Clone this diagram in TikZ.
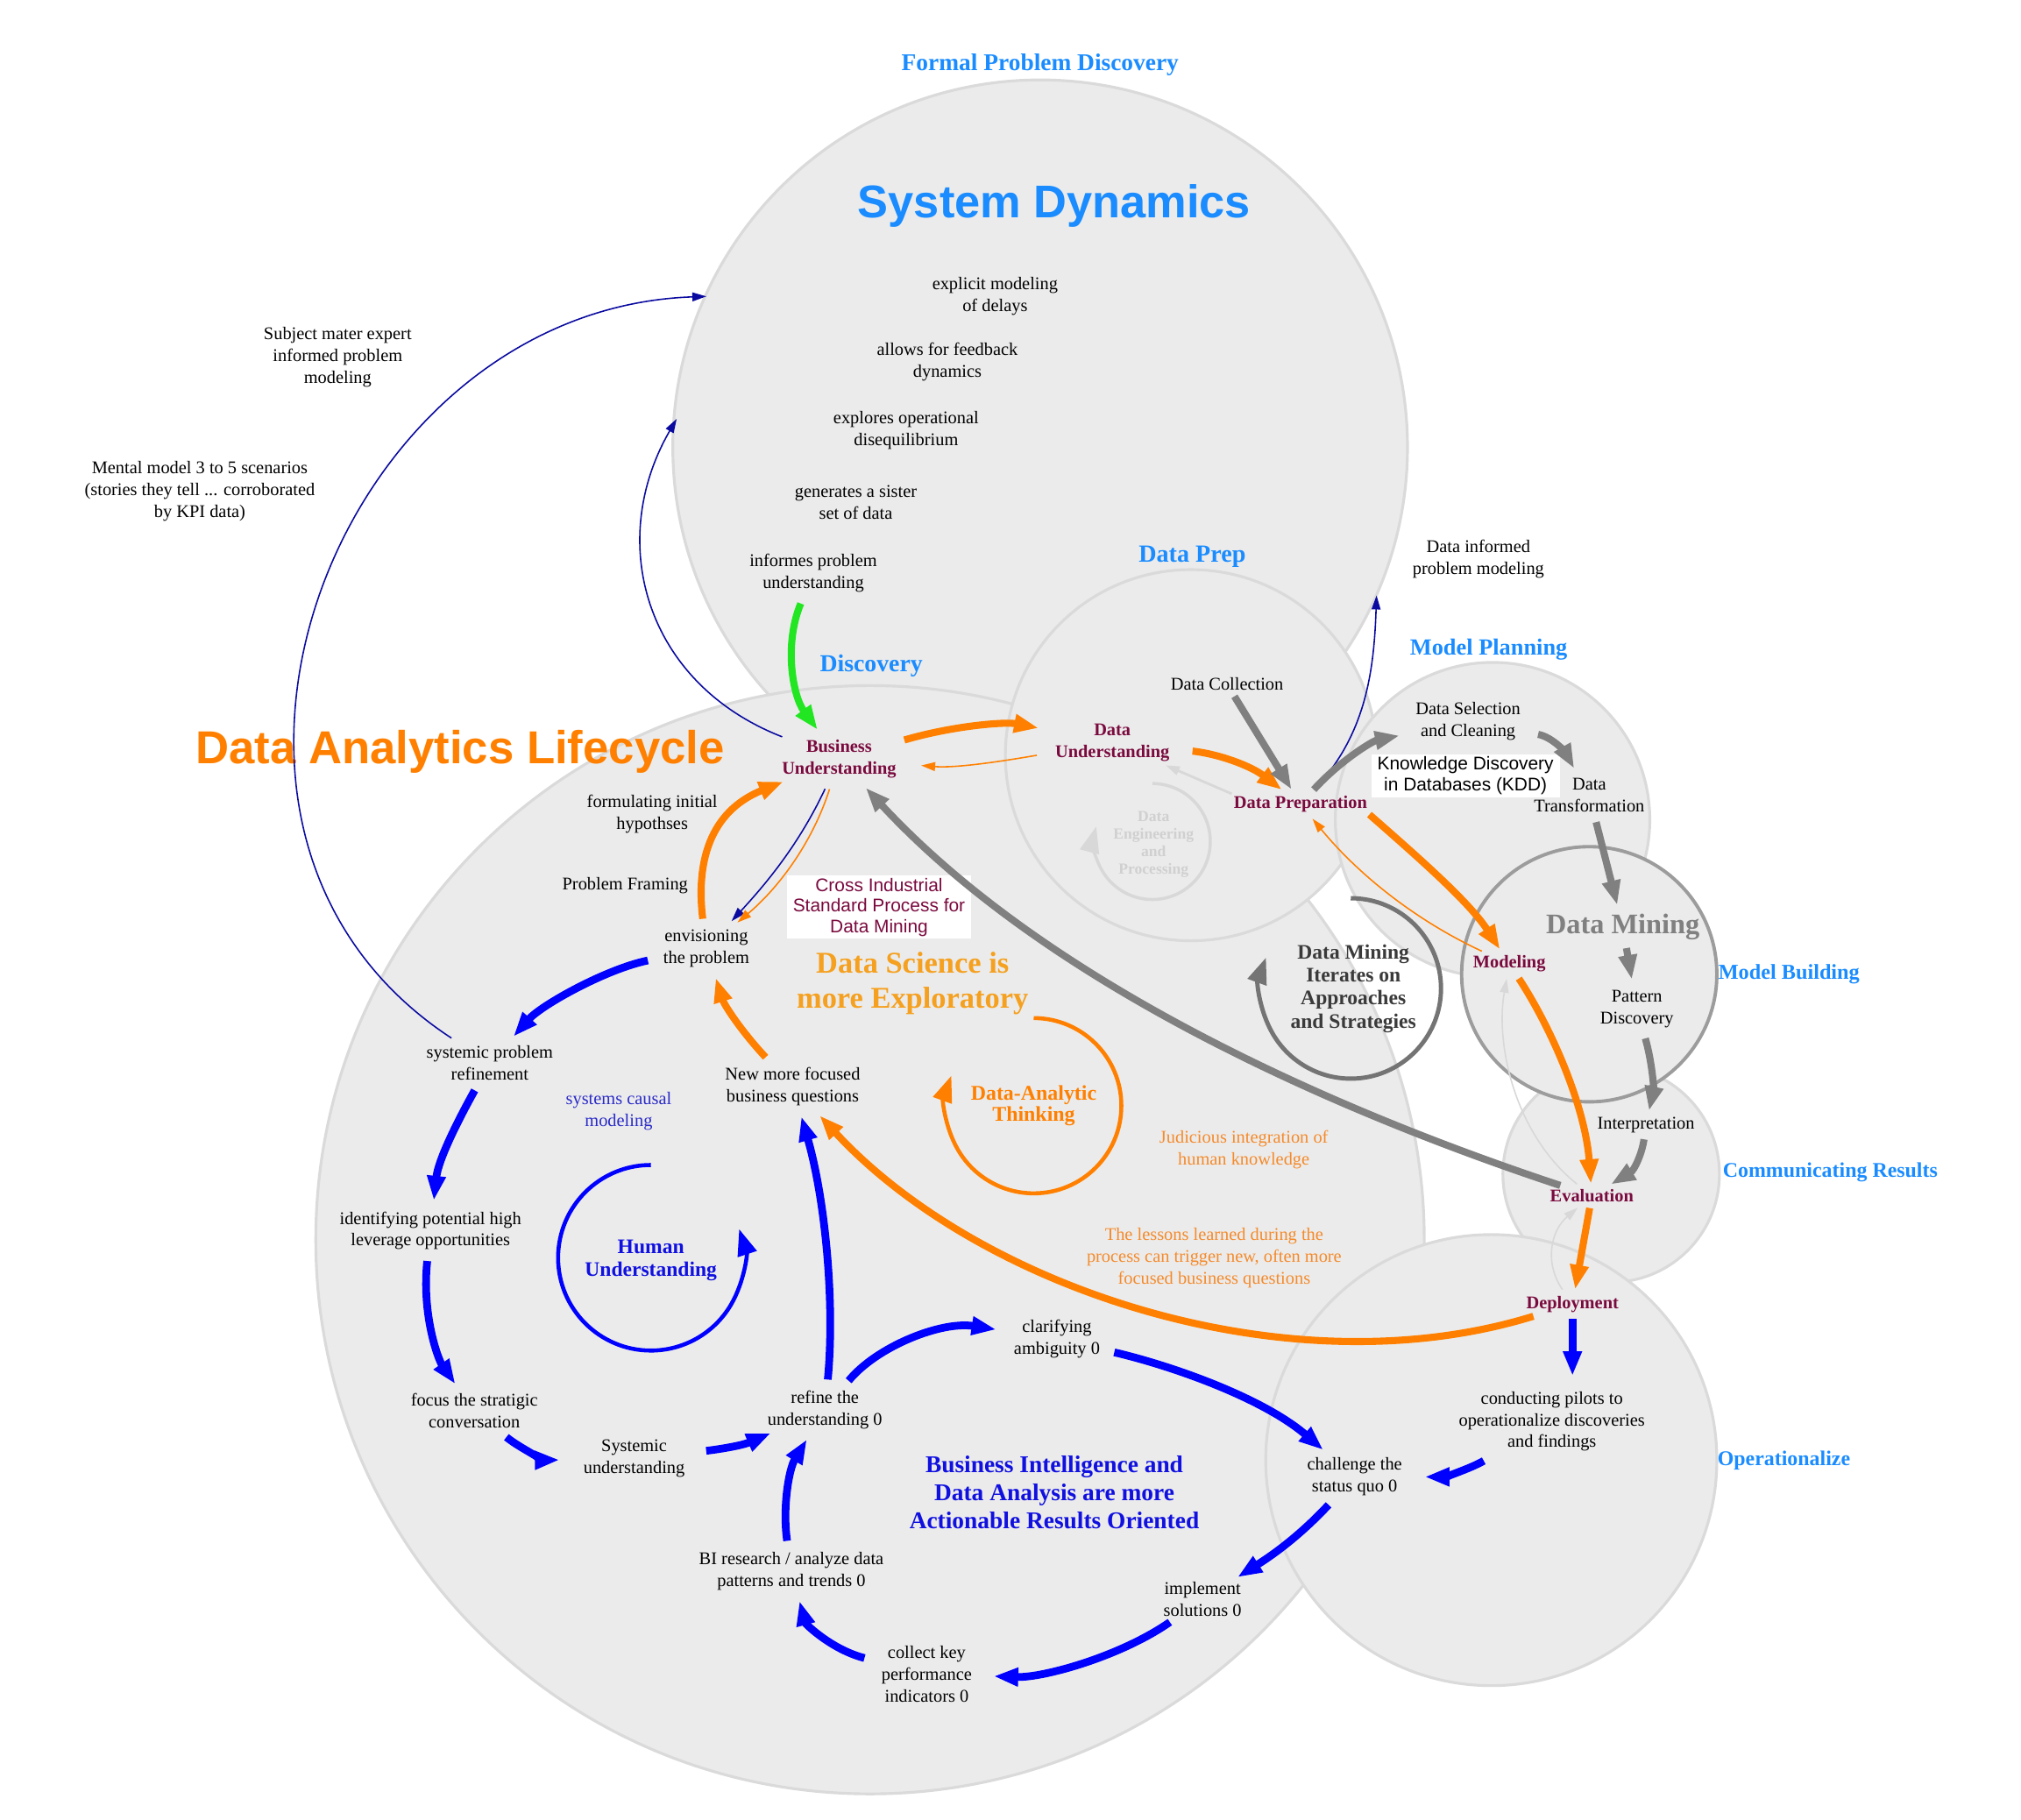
\documentclass[tikz,border=0pt]{standalone}
\usepackage{fontspec}
\setmainfont{Liberation Serif}
\newfontfamily\arialfont{Liberation Sans}
\usetikzlibrary{arrows.meta, shapes.geometric}
\definecolor{fillgray}{HTML}{EBEBEB}
\definecolor{edgegray}{HTML}{DADADA}
\definecolor{dmgray}{HTML}{9C9C9C}
\definecolor{itergray}{HTML}{3A3A3A}
\definecolor{loopgray}{HTML}{747474}
\definecolor{arrgray}{HTML}{808080}
\definecolor{faintgray}{HTML}{D8D8D8}
\definecolor{engtext}{HTML}{D0D0D0}
\definecolor{clblue}{HTML}{1A8CFF}
\definecolor{stagered}{HTML}{7A0A3E}
\definecolor{orng}{HTML}{FF8000}
\definecolor{amber}{HTML}{F5A01E}
\definecolor{otext}{HTML}{F58A2A}
\definecolor{bblue}{HTML}{0000FF}
\definecolor{navy}{HTML}{0A0AA0}
\definecolor{btext}{HTML}{1010E0}
\definecolor{scmblue}{HTML}{2A2AC8}
\definecolor{sdgreen}{HTML}{22E622}

\begin{document}
\begin{tikzpicture}[x=0.14707mm, y=-0.14707mm,
    every node/.style={ellipse, inner sep=0.6pt, align=center, font=\fontsize{5.8}{7.1}\selectfont},
    cluster/.style={draw=edgegray, line width=0.9pt, fill=fillgray},
    stage/.style={text=stagered, font=\fontsize{5.8}{7.1}\selectfont\bfseries},
    heading/.style={text=clblue, font=\fontsize{#1}{#1}\selectfont\bfseries},
    note/.style={text=otext},
    tag/.style={rectangle, fill=white, inner xsep=2pt, inner ysep=0.8pt, font=\arialfont\fontsize{5.95}{6.7}\selectfont},
    bigarrow/.style={line width=2.3pt, -{Triangle[length=2.8mm, width=2mm]}},
    thinarrow/.style={line width=0.45pt, -{Triangle[length=1.6mm, width=1mm]}},
    looparrow/.style={line width=1.3pt, -{Triangle[length=3mm, width=2.2mm]}}]

    \useasboundingbox (0,0) rectangle (1568,1412);

    \draw[cluster] (807,347) circle[radius=285];
    \draw[cluster] (675,962) circle[radius=430];
    \draw[cluster] (924,586) circle[radius=144];
    \draw[cluster] (1158,636) circle[radius=122];
    \draw[cluster] (1250,911) circle[radius=84];
    \draw[cluster, draw=dmgray, line width=1.1pt] (1233,756) circle[radius=99];
    \draw[cluster] (1157,1133) circle[radius=175];

    \node[heading=7.8] (fpd) at (807,50) {Formal Problem Discovery};
    \node[text=clblue, font=\arialfont\bfseries\fontsize{14.9}{14.9}\selectfont] (sdt) at (818,160) {System Dynamics};
    \node (sd1) at (772,230) {explicit modeling\\of delays};
    \node (sd2) at (735,281) {allows for feedback\\dynamics};
    \node (sd3) at (703,334) {explores operational\\disequilibrium};
    \node (sd4) at (664,390) {generates a sister\\set of data};
    \node (sd5) at (631,445) {informes problem\\understanding};
    \node (sme) at (262,277) {Subject mater expert\\informed problem\\modeling};
    \node (mm) at (155,381) {Mental model 3 to 5 scenarios\\(stories they tell ... corroborated\\by KPI data)};
    \node (dipm) at (1147,434) {Data informed\\problem modeling};

    \node[heading=8] (hdp) at (925,432) {Data Prep};
    \node[heading=7.9] (hdisc) at (676,517) {Discovery};
    \node[heading=7.5] (hmp) at (1155,504) {Model Planning};
    \node[heading=6.9] (hmb) at (1388,756) {Model Building};
    \node[heading=6.8] (hcr) at (1420,910) {Communicating Results};
    \node[heading=6.8] (hop) at (1384,1133) {Operationalize};
    \node[text=orng, font=\arialfont\bfseries\fontsize{15}{15}\selectfont] (dal) at (357,583) {Data Analytics Lifecycle};

    \node[stage] (bu) at (651,589) {Business\\Understanding};
    \node[stage] (du) at (863,576) {Data\\Understanding};
    \node[stage] (dp) at (1009,624) {Data Preparation};
    \node[stage] (mod) at (1171,748) {Modeling};
    \node[stage] (eva) at (1235,928) {Evaluation};
    \node[stage] (dep) at (1220,1012) {Deployment};

    \node (dcol) at (952,531) {Data Collection};
    \node (dsel) at (1139,560) {Data Selection\\and Cleaning};
    \node[tag] (kdd) at (1137,602) {Knowledge Discovery\\in Databases (KDD)};
    \node (dtr) at (1233,617) {Data\\Transformation};
    \node[text=arrgray, font=\fontsize{9.2}{9.2}\selectfont\bfseries] (dmt) at (1259,719) {Data Mining};
    \node (pat) at (1270,783) {Pattern\\Discovery};
    \node (intp) at (1277,873) {Interpretation};
    \node[text=engtext, font=\fontsize{5}{5.7}\selectfont\bfseries] (deng) at (895,655) {Data\\Engineering\\and\\Processing};
    \node[text=itergray, font=\fontsize{6.7}{7.5}\selectfont\bfseries] (dmi) at (1050,767) {Data Mining\\Iterates on\\Approaches\\and Strategies};

    \node (fih) at (506,632) {formulating initial\\hypothses};
    \node (pf) at (485,687) {Problem Framing};
    \node[tag, text=stagered] (crisp) at (682,704) {Cross Industrial\\Standard Process for\\Data Mining};
    \node (env) at (548,736) {envisioning\\the problem};
    \node[text=amber, font=\fontsize{9.8}{11.3}\selectfont\bfseries] (dse) at (708,763) {Data Science is\\more Exploratory};
    \node (spr) at (380,825) {systemic problem\\refinement};
    \node (nmf) at (615,843) {New more focused\\business questions};
    \node[text=scmblue] (scm) at (480,862) {systems causal\\modeling};
    \node[text=orng, font=\fontsize{6.8}{7.1}\selectfont\bfseries] (dat) at (802,858) {Data-Analytic\\Thinking};
    \node[note] (jud) at (965,892) {Judicious integration of\\human knowledge};
    \node (ipo) at (334,955) {identifying potential high\\leverage opportunities};
    \node[text=btext, font=\fontsize{6.7}{7.5}\selectfont\bfseries] (hu) at (505,978) {Human\\Understanding};
    \node[note] (les) at (942,976) {The lessons learned during the\\process can trigger new, often more\\focused business questions};
    \node (cla) at (820,1039) {clarifying\\ambiguity 0};
    \node (cpi) at (1204,1103) {conducting pilots to\\operationalize discoveries\\and findings};
    \node (fsc) at (368,1095) {focus the stratigic\\conversation};
    \node (ref) at (640,1094) {refine the\\understanding 0};
    \node (sys) at (492,1132) {Systemic\\understanding};
    \node (chq) at (1051,1146) {challenge the\\status quo 0};
    \node[text=btext, font=\fontsize{7.8}{9.2}\selectfont\bfseries] (bia) at (818,1158) {Business Intelligence and\\Data Analysis are more\\Actionable Results Oriented};
    \node (bir) at (614,1219) {BI research / analyze data\\patterns and trends 0};
    \node (imp) at (933,1241) {implement\\solutions 0};
    \node (ckp) at (719,1299) {collect key\\performance\\indicators 0};

    \coordinate (sdleft) at (548,230);
    \coordinate (sdlow) at (525,325);
    \coordinate (sdright) at (1068,462);

    \draw[thinarrow, navy] (spr) .. controls (105,645) and (260,240) .. (sdleft);
    \draw[thinarrow, navy] (bu) .. controls (500,530) and (470,420) .. (sdlow);
    \draw[thinarrow, navy] (dp) .. controls (1060,570) and (1066,520) .. (sdright);
    \draw[thinarrow, navy] (bu) .. controls (620,655) and (595,685) .. (env);
    \draw[thinarrow, orng] (bu) .. controls (630,655) and (603,690) .. (env);
    \draw[thinarrow, orng] (du) .. controls (770,592) and (740,596) .. (bu);
    \draw[thinarrow, orng] (mod) .. controls (1100,715) and (1055,680) .. (dp);

    \draw[bigarrow, sdgreen] (sd5) .. controls (608,500) and (615,540) .. (bu);
    \draw[bigarrow, orng] (bu) .. controls (740,563) and (780,560) .. (du);
    \draw[bigarrow, orng] (du) .. controls (945,585) and (970,594) .. (dp);
    \draw[bigarrow, orng] (dp.south east) .. controls (1100,665) and (1140,700) .. (mod);
    \draw[bigarrow, orng] (mod) .. controls (1205,800) and (1230,860) .. (eva);
    \draw[bigarrow, orng] (eva) -- (dep);
    \draw[bigarrow, orng] (dep) .. controls (1000,1080) and (760,1000) .. (nmf);
    \draw[bigarrow, orng] (nmf) .. controls (575,800) and (562,780) .. (env);
    \draw[bigarrow, orng] (env) .. controls (540,670) and (550,630) .. (bu);

    \draw[bigarrow, arrgray] (eva) .. controls (1000,850) and (800,750) .. (bu);
    \draw[bigarrow, arrgray] (dcol) -- (dp);
    \draw[bigarrow, arrgray] (dp) .. controls (1040,590) and (1065,575) .. (dsel);
    \draw[bigarrow, arrgray] (dsel) .. controls (1205,572) and (1215,585) .. (dtr);
    \draw[bigarrow, arrgray] (dtr) -- (dmt);
    \draw[bigarrow, arrgray] (dmt) -- (pat);
    \draw[bigarrow, arrgray] (pat) .. controls (1282,825) and (1283,845) .. (intp);
    \draw[bigarrow, arrgray] (intp) .. controls (1274,895) and (1268,908) .. (eva);

    \draw[thinarrow, faintgray, line width=0.8pt] (dp.north west) -- (du);
    \draw[thinarrow, faintgray] (eva) .. controls (1175,880) and (1160,810) .. (mod);
    \draw[thinarrow, faintgray] (dep) .. controls (1198,980) and (1203,955) .. (eva);

    \draw[bigarrow, bblue, line width=2.5pt] (env) .. controls (470,752) and (420,780) .. (spr);
    \draw[bigarrow, bblue, line width=2.5pt] (spr) .. controls (355,870) and (340,900) .. (ipo);
    \draw[bigarrow, bblue, line width=2.5pt] (ipo) .. controls (327,1020) and (340,1055) .. (fsc);
    \draw[bigarrow, bblue, line width=2.5pt] (fsc) .. controls (405,1125) and (425,1133) .. (sys);
    \draw[bigarrow, bblue, line width=2.5pt] (sys) .. controls (555,1125) and (575,1122) .. (ref);
    \draw[bigarrow, bblue, line width=2.5pt] (ref) .. controls (648,1010) and (640,930) .. (nmf);
    \draw[bigarrow, bblue, line width=2.5pt] (ref) .. controls (680,1045) and (730,1025) .. (cla);
    \draw[bigarrow, bblue, line width=2.5pt] (cla) .. controls (910,1060) and (980,1085) .. (chq);
    \draw[bigarrow, bblue, line width=2.5pt] (cpi) .. controls (1140,1140) and (1120,1146) .. (chq);
    \draw[bigarrow, bblue, line width=2.5pt] (dep.south) -- (dep.south |- cpi.north);
    \draw[bigarrow, bblue, line width=2.5pt] (chq) .. controls (1010,1190) and (990,1205) .. (imp);
    \draw[bigarrow, bblue, line width=2.5pt] (imp) .. controls (870,1285) and (810,1302) .. (ckp);
    \draw[bigarrow, bblue, line width=2.5pt] (ckp) .. controls (645,1280) and (625,1260) .. (bir);
    \draw[bigarrow, bblue, line width=2.5pt] (bir) .. controls (607,1170) and (612,1140) .. (ref);

    \draw[looparrow, bblue] (505,904) arc[start angle=-90, end angle=-378, radius=72];
    \draw[looparrow, orng] (802,790) arc[start angle=-90, end angle=200, radius=68];
    \draw[looparrow, loopgray, line width=1.4pt] (1048,697) arc[start angle=-90, end angle=200, radius=70];
    \draw[looparrow, faintgray, line width=1pt] (894,608) arc[start angle=-90, end angle=195, radius=45];
  \end{tikzpicture}
\end{document}
